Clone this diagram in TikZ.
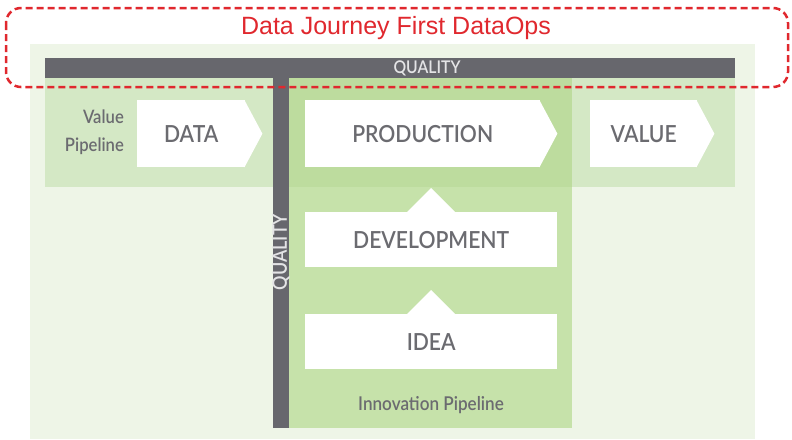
\documentclass[tikz,border=0pt]{standalone}
\usepackage{fontspec}
\setmainfont{Lato}
\IfFontExistsTF{Lato Semibold}
  {\newfontfamily\boxfont[FakeStretch=0.9]{Lato Semibold}}
  {\newfontfamily\boxfont[FakeStretch=0.9]{Lato}}
\newfontfamily\titlefont{Liberation Sans}
\usetikzlibrary{positioning}
\definecolor{PaleClr}{HTML}{EEF5E7}
\definecolor{BandClr}{HTML}{D4E8C5}
\definecolor{ColClr}{HTML}{C6E2AA}
\definecolor{MixClr}{HTML}{BDDC9E}
\definecolor{BarClr}{HTML}{67676D}
\definecolor{BarTxtClr}{HTML}{E4E4E6}
\definecolor{TxtClr}{HTML}{6B6B70}
\definecolor{RedClr}{HTML}{E0282E}

\begin{document}
\begin{tikzpicture}[x=1pt,y=-1pt,
  box/.style={fill=white,inner sep=0pt,minimum height=67pt,text=TxtClr,
    font=\boxfont\fontsize{23.5}{23.5}\selectfont},
  bartext/.style={text=BarTxtClr,inner sep=0pt,font=\boxfont\fontsize{17.5}{17.5}\selectfont},
  note/.style={text=TxtClr,inner sep=0pt,font=\boxfont\fontsize{18.5}{28}\selectfont},
  title/.style={text=RedClr,inner sep=0pt,font=\titlefont\fontsize{25}{25}\selectfont}]
\useasboundingbox (0,0) rectangle (792,439);

\fill[PaleClr] (30,44) rectangle (755,439);
\fill[BandClr] (45,78) rectangle (735,187);
\fill[ColClr] (289,78) rectangle (572,428);
\fill[MixClr] (289,78) rectangle (572,187);
\fill[BarClr] (45,58) rectangle (735,78);
\fill[BarClr] (273,78) rectangle (289,428);

\node[bartext] (qtop) at (427,68) {QUALITY};
\node[bartext,rotate=90,font=\boxfont\fontsize{20}{20}\selectfont] (qside) at (281,252) {QUALITY};

\node[note,align=right,anchor=east] (vpipe) at (124,132) {Value\\Pipeline};
\node[note,font=\boxfont\fontsize{19}{19}\selectfont] (ipipe) at (431,405) {Innovation Pipeline};

\node[box,minimum width=108pt,anchor=north west] (data) at (137,100) {DATA};
\node[box,minimum width=235pt,anchor=north west] (prod) at (305,100) {PRODUCTION};
\node[box,minimum width=107pt,anchor=north west] (value) at (590,100) {VALUE};
\foreach \n in {data,prod,value}
  \fill[white] ([xshift=-1pt]\n.north east) -- ([xshift=17pt]\n.east)
    -- ([xshift=-1pt]\n.south east) -- cycle;

\node[box,minimum width=252pt,minimum height=55pt,anchor=north west] (dev) at (305,212) {DEVELOPMENT};
\node[box,minimum width=252pt,minimum height=55pt,anchor=north west] (idea) at (305,314) {IDEA};
\foreach \n in {dev,idea}
  \fill[white] ([xshift=-25pt,yshift=-1pt]\n.north) -- ([yshift=24pt]\n.north)
    -- ([xshift=25pt,yshift=-1pt]\n.north) -- cycle;

\draw[RedClr,line width=2.5pt,dash pattern=on 7pt off 4pt,rounded corners=15pt]
  (6,8) rectangle (788,87);
\node[title] (ttl) at (396,28) {Data Journey First DataOps};
\end{tikzpicture}
\end{document}
